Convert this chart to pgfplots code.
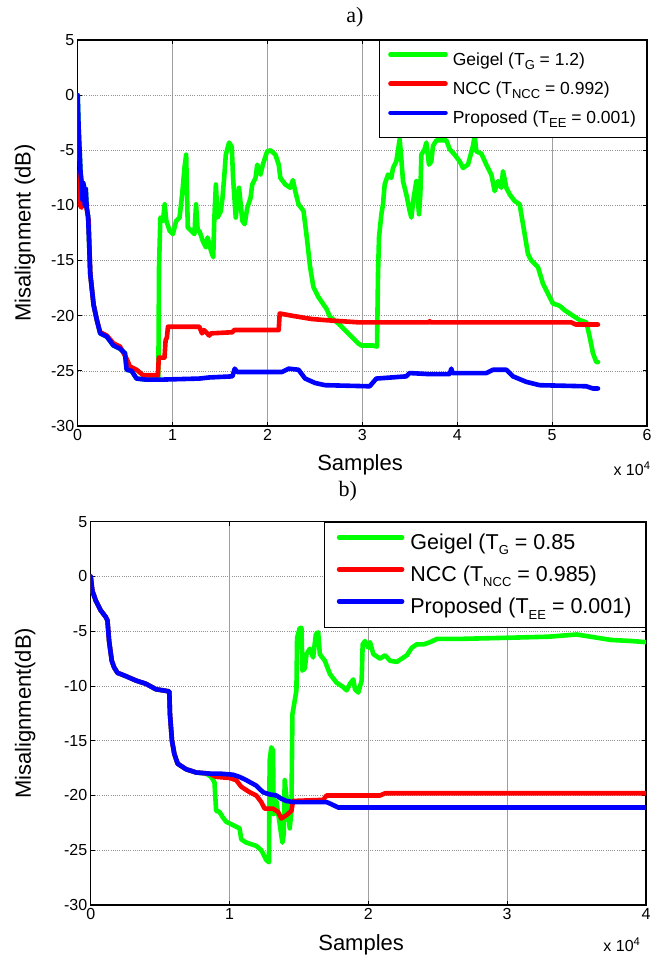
\documentclass[border=0pt]{standalone}
\usepackage{fontspec}
\setmainfont{Liberation Sans}
\newfontfamily\timesf{Liberation Serif}
\usepackage{pgfplots}
\pgfplotsset{compat=1.18}
\newcommand\fs[1]{\fontsize{#1}{#1}\selectfont}
\newcommand\sub[1]{\raisebox{-0.45ex}{\fs{13}#1}}
\definecolor{mgreen}{RGB}{0,255,0}
\definecolor{mred}{RGB}{255,0,0}
\definecolor{mblue}{RGB}{0,0,255}
\pgfplotsset{
  mstyle/.style={
    scale only axis, xmin=0, ymin=-30, ymax=5,
    scaled x ticks=false, scaled y ticks=false,
    ytick={-30,-25,-20,-15,-10,-5,0,5},
    yticklabels={-30,-25,-20,-15,-10,-5,0,5},
    grid=major,
    x grid style={gray!75, line width=0.6pt},
    y grid style={gray!85, line width=0.5pt, dash pattern=on 1pt off 1.2pt},
    tick align=inside, major tick length=4pt,
    tick style={black, line width=0.8pt},
    axis line style={line width=1.2pt},
    ticklabel style={font=\fs{16}},
    every axis plot/.append style={line width=4.6pt, line join=round, line cap=round},
    legend cell align=left,
  }
}
\begin{document}
\begin{tikzpicture}
\useasboundingbox (0pt,0pt) rectangle (661pt,961pt);
% ---------------- a) ----------------
\begin{axis}[mstyle,
  at={(77.7pt,535pt)}, anchor=south west, width=569.3pt, height=386pt,
  xmax=60000, xtick={0,10000,20000,30000,40000,50000,60000},
  xticklabels={0,1,2,3,4,5,6},
  xlabel={Samples}, xlabel style={font=\fs{22}, at={(axis description cs:0.496,-0.101)}, anchor=center},
  ylabel={Misalignment (dB)}, ylabel style={font=\fs{22}, at={(axis description cs:-0.0926,0.5)}, anchor=center},
  title={a)}, title style={font=\timesf\fs{22}, at={(axis description cs:0.487,1.044)}, anchor=center},
  legend image code/.code={\draw[#1,line width=4.6pt] (0pt,5pt) -- (55pt,5pt);},
  legend style={at={(rel axis cs:1,1)}, anchor=north east, draw=black, line width=1pt,
    font=\fs{17.5}, inner xsep=8.5pt, inner ysep=10pt, row sep=11pt, column sep=3pt},
  after end axis/.code={\node[anchor=west, font=\fs{16}] at (axis description cs:0.935,-0.110) {x 10\textsuperscript{4}};},
]
\addplot[mgreen] coordinates {
(0,0)(100,-3)(200,-5)(300,-7)(400,-7.8)(500,-9.5)(550,-7.9)(650,-8.2)(750,-10)(850,-8.5)(950,-10.2)(1100,-11)
(1324,-16.2)(1672,-19)(2021,-20.4)(2369,-21.6)(3066,-21.9)(3763,-22.7)(4460,-23)(4983,-23.4)(5157,-24.9)(5679,-25)(6202,-25.7)(7247,-25.8)(8500,-25.8)
(8571,-15.6)(8711,-11.1)(8990,-11.4)(9164,-9.9)(9338,-11.4)(9686,-12.3)(10035,-12.6)(10383,-11.4)(10732,-11.1)(11010,-9)(11254,-6.6)(11429,-5.4)(11603,-12)(11951,-12.3)(12300,-12.6)(12474,-9.9)(12648,-12.3)(12822,-12.3)(13171,-13.2)(13519,-13.8)(13693,-12.9)(14042,-14.1)(14286,-14.7)(14390,-11.4)(14564,-8.1)(14739,-11.1)(15087,-10.5)(15261,-9.3)(15436,-7.5)(15610,-5.4)(15958,-4.3)(16237,-4.7)(16376,-7.5)(16655,-11.1)(17003,-8.4)(17352,-11.4)(17596,-11.7)(17875,-10.2)(18223,-9.3)(18397,-8.1)(18746,-7.5)(18920,-6.3)(19268,-7.2)(19512,-6.3)(19965,-5.1)(20314,-5.0)(20836,-5.4)(21185,-6.3)(21359,-7.5)(21882,-8.1)(22404,-8.4)(22683,-7.7)(22927,-8.7)(23275,-9.9)(23798,-10.5)(24146,-12.9)(24495,-15.6)(24843,-17.4)(25366,-18.3)(26237,-19.4)(26585,-20.1)(27456,-20.7)(28153,-21.3)(28850,-21.9)(29547,-22.5)(29895,-22.7)(31124,-22.7)(31545,-22.8)(31651,-16.2)(31756,-12.9)(32002,-10.8)(32178,-9.9)(32353,-8.1)(32705,-7.2)(33056,-7.5)(33231,-6.6)(33583,-6.0)(33934,-4.0)(34110,-5.8)(34285,-7.8)(34636,-9.0)(34988,-10.5)(35163,-11.1)(35409,-9.3)(35690,-7.8)(35971,-10.8)(36112,-9.0)(36217,-5.4)(36568,-4.9)(36744,-4.3)(37025,-6.3)(37271,-6.0)(37447,-4.6)(37798,-4.1)(38851,-4.1)(39203,-4.9)(39730,-5.4)(40256,-6.0)(40608,-6.6)(41135,-6.3)(41662,-4.6)(41837,-3.7)(42013,-5.1)(42540,-5.3)(43066,-6.3)(43593,-7.2)(43945,-8.7)(44296,-7.8)(44647,-8.4)(44823,-6.9)(45174,-8.4)(45525,-9.0)(46052,-9.6)(46579,-9.9)(46930,-11.7)(47457,-14.4)(47808,-15.0)(48511,-15.6)(49038,-17.1)(49740,-18.3)(50091,-18.9)(50794,-19.1)(51321,-19.5)(52199,-20.0)(52901,-20.4)(53604,-20.6)(53955,-21.9)(54306,-23.4)(54657,-24.2)(54833,-24.2)
};
\addlegendentry{Geigel (T\sub{G} = 1.2)}
\addplot[mred] coordinates {
(0,-7)(150,-9)(250,-10)(400,-10.2)(500,-8.5)(700,-9.5)(900,-10)(1150,-11.4)(1324,-16.2)(1672,-19)(2021,-20.4)(2369,-21.5)(3066,-21.8)(3763,-22.5)(4460,-22.8)(5157,-23.9)(5500,-24.6)(6202,-24.9)(6900,-25.4)(8450,-25.4)(8550,-23.8)(9150,-23.8)(9268,-22.2)(9400,-22.0)(9512,-21)(12822,-21)(13101,-21.6)(13300,-21.3)(13868,-21.8)(14042,-21.6)(16300,-21.5)(16481,-21.3)(21185,-21.3)(21289,-19.8)(22578,-20)(24669,-20.3)(26063,-20.4)(29547,-20.6)(37000,-20.6)(37095,-20.5)(37200,-20.6)(52000,-20.6)(52500,-20.8)(54833,-20.8)
};
\addlegendentry{NCC (T\sub{NCC} = 0.992)}
\addplot[mblue] coordinates {
(0,0)(100,-3)(200,-5)(300,-7)(400,-7.8)(500,-9.5)(550,-7.9)(650,-8.2)(750,-10)(850,-8.5)(950,-10.2)(1100,-11)
(1324,-16.2)(1672,-19)(2021,-20.4)(2369,-21.6)(3066,-21.9)(3763,-22.7)(4460,-23)(4983,-23.4)(5157,-24.9)(5679,-25)(6202,-25.7)(7247,-25.8)(8641,-25.8)(12822,-25.7)(13868,-25.6)(16307,-25.5)(16550,-24.8)(16800,-25.1)(21533,-25.1)(22230,-24.8)(23275,-24.9)(23972,-25.7)(25017,-26.1)(26063,-26.3)(30773,-26.4)(31475,-25.7)(34636,-25.5)(34988,-25.2)(37095,-25.3)(39200,-25.3)(39378,-24.8)(39500,-25.2)(43066,-25.2)(43769,-24.9)(45174,-24.9)(45876,-25.5)(47281,-26.0)(48686,-26.3)(53604,-26.4)(54306,-26.6)(54833,-26.6)
};
\addlegendentry{Proposed (T\sub{EE} = 0.001)}
\end{axis}
% ---------------- b) ----------------
\begin{axis}[mstyle,
  at={(90.7pt,56pt)}, anchor=south west, width=555.3pt, height=383.3pt,
  xmax=40000, xtick={0,10000,20000,30000,40000},
  xticklabels={0,1,2,3,4},
  xlabel={Samples}, xlabel style={font=\fs{22}, at={(axis description cs:0.487,-0.104)}, anchor=center},
  ylabel={Misalignment(dB)}, ylabel style={font=\fs{22}, at={(axis description cs:-0.118,0.5)}, anchor=center},
  title={b)}, title style={font=\timesf\fs{22}, at={(axis description cs:0.463,1.064)}, anchor=center},
  legend image code/.code={\draw[#1,line width=4.6pt] (0pt,5.5pt) -- (63pt,5.5pt);},
  legend style={at={(rel axis cs:1,1)}, anchor=north east, draw=black, line width=1pt,
    font=\fs{21.5}, inner xsep=12pt, inner ysep=10pt, row sep=11pt, column sep=4pt},
  after end axis/.code={\node[anchor=west, font=\fs{16}] at (axis description cs:0.917,-0.104) {x 10\textsuperscript{4}};},
]
\addplot[mgreen] coordinates {
(0,0)(120,-1.3)(361,-2.2)(723,-3.1)(1084,-3.7)(1205,-4.0)(1325,-5.9)(1518,-7.7)(1687,-8.3)(1928,-8.8)(2530,-9.1)(3253,-9.5)(3976,-9.8)(4699,-10.3)(5663,-10.5)(5711,-12.6)(5855,-15)(6024,-16.2)(6265,-17.1)(6867,-17.6)(7590,-17.9)(8313,-18.0)
(8675,-18.3)(8916,-18.8)(9036,-21.4)(9277,-21.5)(9518,-22.0)(9759,-22.4)(10241,-22.7)(10723,-23.0)(10843,-24.0)(11205,-24.3)(11928,-24.6)(12289,-25.0)(12651,-25.9)(12843,-26.1)(12860,-22.0)(12892,-16.8)(13012,-15.6)(13133,-15.9)(13181,-21.7)(13373,-20.5)(13614,-22.6)(13807,-24.3)(13904,-23.5)(13976,-18.6)(14096,-20.1)(14337,-23.0)(14458,-21.4)(14530,-12.6)(14699,-11.3)(14819,-10.4)(14867,-5.6)(15060,-4.7)(15180,-4.7)(15253,-8.6)(15422,-8.4)(15542,-7.1)(15783,-6.6)(16024,-7.4)(16217,-5.3)(16386,-5.1)(16506,-7.1)(16867,-7.7)(17229,-8.9)(17711,-9.7)(18193,-10.1)(18434,-10.4)(18675,-9.8)(18916,-9.4)(19036,-10.3)(19277,-10.6)(19518,-9.5)(19590,-6.2)(19759,-5.9)(20000,-6.5)(20120,-6.0)(20361,-7.1)(20843,-7.5)(21205,-7.2)(21566,-7.7)(22048,-7.8)(22410,-7.5)(22771,-7.2)(23133,-6.5)(23494,-6.2)(23976,-6.2)(24458,-6.0)(24940,-5.7)(26627,-5.7)(30000,-5.6)(33000,-5.5)(35000,-5.3)(36000,-5.5)(37500,-5.8)(39000,-5.9)(40000,-6.0)
};
\addlegendentry{Geigel (T\sub{G} = 0.85}
\addplot[mred] coordinates {
(0,0)(120,-1.3)(361,-2.2)(723,-3.1)(1084,-3.7)(1205,-4.0)(1325,-5.9)(1518,-7.7)(1687,-8.3)(1928,-8.8)(2530,-9.1)(3253,-9.5)(3976,-9.8)(4699,-10.3)(5663,-10.5)(5711,-12.6)(5855,-15)(6024,-16.2)(6265,-17.1)(6867,-17.6)(7590,-17.9)(8554,-18.0)
(9036,-18.3)(10000,-18.4)(10482,-18.6)(10843,-19.2)(11446,-19.7)(11928,-20.0)(12289,-20.6)(12530,-21.2)(13133,-21.2)(13494,-21.5)(13735,-22.1)(14096,-21.8)(14458,-21.4)(14578,-20.5)(16747,-20.4)(16988,-20.0)(20843,-20.0)(21205,-19.8)(40000,-19.8)
};
\addlegendentry{NCC (T\sub{NCC} = 0.985)}
\addplot[mblue] coordinates {
(0,0)(120,-1.3)(361,-2.2)(723,-3.1)(1084,-3.7)(1205,-4.0)(1325,-5.9)(1518,-7.7)(1687,-8.3)(1928,-8.8)(2530,-9.1)(3253,-9.5)(3976,-9.8)(4699,-10.3)(5663,-10.5)(5711,-12.6)(5855,-15)(6024,-16.2)(6265,-17.1)(6867,-17.6)(7590,-17.9)(8554,-18.0)(9277,-18.0)(10241,-18.1)(10723,-18.3)(11205,-18.6)(11928,-19.1)(12410,-19.7)(12892,-19.9)(13373,-20.0)(13735,-20.3)(14096,-20.5)(14578,-20.6)(16988,-20.6)(17349,-20.8)(17831,-21.1)(40000,-21.1)
};
\addlegendentry{Proposed (T\sub{EE} = 0.001)}
\end{axis}
\end{tikzpicture}
\end{document}
